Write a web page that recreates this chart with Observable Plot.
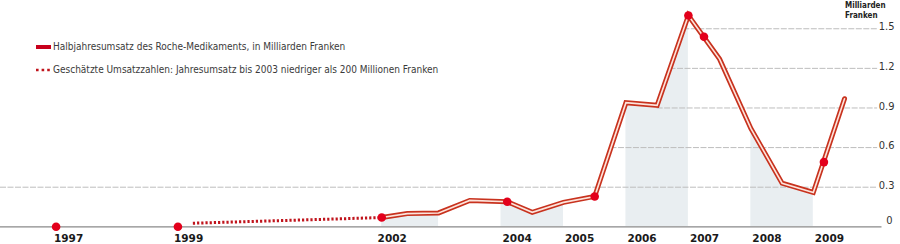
<!DOCTYPE html>
<html>
<head>
<meta charset="utf-8">
<script src="https://cdn.jsdelivr.net/npm/d3@7"></script>
<script src="https://cdn.jsdelivr.net/npm/@observablehq/plot@0.6"></script>
<style>
  html, body { margin: 0; padding: 0; background: #fff; }
  #wrap { position: relative; width: 900px; height: 244px; overflow: hidden; }
  #wrap > svg { position: absolute; left: 0; top: 0; }
  .leg { position: absolute; font-family: "DejaVu Sans Condensed", "DejaVu Sans", sans-serif; font-stretch: condensed; font-size: 10px; color: #3a3a3a; white-space: nowrap; line-height: 12px; }
  .leg svg { vertical-align: top; margin-right: 2px; }
  .unit { position: absolute; left: 845px; top: 1px; font-family: "DejaVu Sans Condensed", "DejaVu Sans", sans-serif; font-stretch: condensed; font-weight: bold; font-size: 8px; line-height: 10px; color: #222; }
</style>
</head>
<body>
<div id="wrap"></div>
<script>
// ---- data ----
const halfYears = [2002.09, 2002.5, 2003, 2003.5, 2004.1, 2004.5, 2005, 2005.5, 2006, 2006.5, 2007, 2007.5, 2008, 2008.5, 2009, 2009.5];
const sales     = [0.07, 0.10, 0.105, 0.20, 0.19, 0.11, 0.185, 0.23, 0.94, 0.92, 1.60, 1.27, 0.745, 0.33, 0.26, 0.97];
const estYears  = [1999.3, 2002.09];
const estSales  = [0.027, 0.07];
const markerYears = [1997.06, 1999.08, 2002.09, 2004.1, 2005.5, 2007.0, 2007.25, 2009.17];
const markerSales = [0, 0, 0.07, 0.19, 0.23, 1.60, 1.44, 0.49];
const yearLabels  = [1997, 1999, 2002, 2004, 2005, 2006, 2007, 2008, 2009];
const shadedYears = [2002, 2004, 2006, 2008];
const yTicks      = [0, 0.3, 0.6, 0.9, 1.2, 1.5];
const legendLabels = [
  "Halbjahresumsatz des Roche-Medikaments, in Milliarden Franken",
  "Geschätzte Umsatzzahlen: Jahresumsatz bis 2003 niedriger als 200 Millionen Franken"
];
const unitLabel = ["Milliarden", "Franken"];

// ---- derived tables ----
const line = halfYears.map((t, i) => ({t, v: sales[i]}));
const est = estYears.map((t, i) => ({t, v: estSales[i]}));
const markers = markerYears.map((t, i) => ({t, v: markerSales[i]}));
const whiteYears = shadedYears.map(y => y + 1);

const xMin = 1996.13, xMax = 2010.1, gridEnd = 2010.03;
// gridline start: where the rising curve reaches the value (lowest line spans all)
const peak = d3.maxIndex(sales);
function gridStart(v, idx) {
  if (idx === 1) return xMin;
  for (let i = peak; i > 0; i--) {
    if (sales[i - 1] < v + 0.03) {
      if (sales[i - 1] >= v) return halfYears[i - 1];
      const f = (v - sales[i - 1]) / (sales[i] - sales[i - 1]);
      return halfYears[i - 1] + f * (halfYears[i] - halfYears[i - 1]);
    }
  }
  return xMin;
}
const grid = yTicks.map((v, i) => ({v, start: gridStart(v, i)})).filter(d => d.v > 0);

const narrow = "'Liberation Sans Narrow', 'DejaVu Sans Condensed', sans-serif";

const chart = Plot.plot({
  width: 900,
  height: 244,
  marginTop: 0, marginBottom: 0, marginLeft: 0, marginRight: 6,
  x: {type: "linear", domain: [xMin, 1997, 1999, 2002, xMax], range: [0, 52, 172, 375.6, 881.5], axis: null},
  y: {domain: [0, 1.714], range: [226.3, 0], axis: null},
  marks: [
    Plot.areaY(line, {x: "t", y: "v", fill: "#e9eef1"}),
    Plot.rect(whiteYears, {x1: d => d, x2: d => d + 1, y1: () => 0, y2: () => 1.714, fill: "white"}),
    Plot.ruleY(grid, {y: "v", x1: "start", x2: () => gridEnd, stroke: "#bdbdbd", strokeWidth: 1, strokeDasharray: "6,1.5"}),
    Plot.ruleY([0], {x1: () => xMin, x2: () => xMax, stroke: "#8a8a8a", strokeWidth: 1.3}),
    Plot.line(est, {x: "t", y: "v", stroke: "#c0141c", strokeWidth: 3, strokeDasharray: "2.2,2", strokeLinecap: "butt"}),
    Plot.line(line, {x: "t", y: "v", stroke: "#c8321e", strokeWidth: 5, strokeLinejoin: "miter", strokeMiterlimit: 6}),
    Plot.line(line, {x: "t", y: "v", stroke: "#fde4dc", strokeWidth: 1.6, strokeLinejoin: "miter", strokeMiterlimit: 6}),
    Plot.dot(markers, {x: "t", y: "v", r: 4.3, fill: "#e3001b", stroke: "none"}),
    Plot.text(yearLabels, {x: d => d, y: () => 0, dy: 12, dx: 1.5, text: d => String(d), textAnchor: "start", lineAnchor: "middle",
      fontFamily: "'DejaVu Sans', sans-serif", fontWeight: "bold", fontSize: 10.5, fill: "#1a1a1a"}),
    Plot.text(yTicks.filter(v => v > 0), {y: d => d, frameAnchor: "right", textAnchor: "end", lineAnchor: "middle", dy: -2,
      text: d => String(d), fontFamily: narrow, fontSize: 11, fill: "#333"}),
    Plot.text(yTicks.filter(v => v === 0), {y: d => d, frameAnchor: "right", textAnchor: "end", lineAnchor: "middle", dy: -6, dx: -2,
      text: d => String(d), fontFamily: narrow, fontSize: 11, fill: "#333"})
  ]
});

const wrap = document.getElementById("wrap");
wrap.appendChild(chart);

// legend (inside the chart area, top-left)
const leg1 = document.createElement("div");
leg1.className = "leg";
leg1.style.left = "36px"; leg1.style.top = "41px";
leg1.innerHTML = `<svg width="15" height="12"><rect x="0" y="4" width="15" height="4" fill="#c8001c"/></svg>` + legendLabels[0];
wrap.appendChild(leg1);

const leg2 = document.createElement("div");
leg2.className = "leg";
leg2.style.left = "36px"; leg2.style.top = "64px";
leg2.innerHTML = `<svg width="15" height="12"><line x1="0" y1="6" x2="15" y2="6" stroke="#c0141c" stroke-width="2.6" stroke-dasharray="2.6,3"/></svg>` + legendLabels[1];
wrap.appendChild(leg2);

const unit = document.createElement("div");
unit.className = "unit";
unit.innerHTML = unitLabel.join("<br>");
wrap.appendChild(unit);
</script>
</body>
</html>
